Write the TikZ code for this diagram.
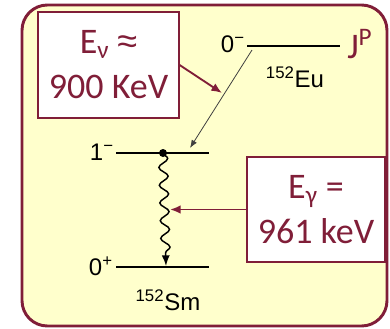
\documentclass[tikz,border=0pt]{standalone}
\usepackage{fontspec}
\setmainfont{Liberation Sans}
\newfontfamily\calibfont{Carlito}
\usepackage{tikz}
\usepackage{xcolor}
\usetikzlibrary{positioning, arrows.meta, decorations.pathmorphing}
\definecolor{myMaroon}{RGB}{128,30,56}
\definecolor{myCream}{RGB}{255,255,204}

\begin{document}
\begin{tikzpicture}[
  x=0.75pt, y=-0.75pt,
  frame/.style={draw=myMaroon, fill=myCream, line width=2.2pt, rounded corners=19pt},
  callout/.style={draw=myMaroon, fill=white, line width=0.9pt, text=myMaroon,
    font=\calibfont\fontsize{27}{33.75}\selectfont, align=center, inner sep=0pt},
  tag/.style={font=\fontsize{18}{20}\selectfont, inner sep=0pt},
  lvl/.style={line width=1.8pt},
  pointer/.style={draw=myMaroon, line width=1.4pt, -{Latex[length=8pt, width=6.5pt]}},
  decay/.style={draw=black!75, line width=0.6pt, -{Latex[length=6pt, width=4.5pt]}},
]
  \useasboundingbox (0,0) rectangle (390,329);
  \draw[frame] (22,5) rectangle (387,326);

  % levels
  \coordinate (eu-l) at (247,46);  \coordinate (eu-r) at (340,46);
  \coordinate (ex-l) at (116,153); \coordinate (ex-r) at (209,153);
  \coordinate (gs-l) at (116,267); \coordinate (gs-r) at (209,267);
  \draw[lvl] (eu-l) -- (eu-r);
  \draw[lvl] (ex-l) -- (ex-r);
  \draw[lvl] (gs-l) -- (gs-r);

  \node[tag, anchor=base east] (spinEu) at (245,52)  {0\textsuperscript{−}};
  \node[tag, anchor=base east] (spinEx) at (114,160) {1\textsuperscript{−}};
  \node[tag, anchor=base east] (spinGs) at (113,275) {0\textsuperscript{+}};
  \node[tag, anchor=base] (eu) at (295,87)  {\textsuperscript{152}Eu};
  \node[tag, anchor=base] (sm) at (168,310) {\textsuperscript{152}Sm};
  \node[anchor=base west, inner sep=0pt, text=myMaroon,
    font=\calibfont\fontsize{27}{33.75}\selectfont] (jp) at (347,58) {J\textsuperscript{P}};

  % electron capture and gamma
  \coordinate (ecTail) at (252,50);
  \coordinate (ecTip) at (190,148);
  \draw[decay] (ecTail) -- (ecTip);
  \node[circle, fill, inner sep=0pt, minimum size=6pt] (dot) at (163,153) {};
  \coordinate (gamTip) at (166,266);
  \draw[line width=1.1pt, -{Latex[length=8pt, width=6pt]},
    decorate, decoration={snake, amplitude=3.4pt, segment length=13.3pt, post length=9pt}]
    (dot.center) -- (gamTip);

  % callouts
  \node[callout, minimum width=105.75pt, minimum height=79.5pt] (nuBox) at (108.5,65)
    {E\textsubscript{ν} {\rmfamily ≈}\\900 KeV};
  \node[callout, minimum width=103.5pt, minimum height=78.75pt] (gamBox) at (316,209.5)
    {E\textsubscript{γ} =\\961 keV};
  \coordinate (nuTip) at (222,93);
  \coordinate (wave) at (170,209.5);
  \draw[pointer] (nuBox.east) -- (nuTip);
  \draw[pointer] (gamBox.west) -- (wave);
\end{tikzpicture}
\end{document}
